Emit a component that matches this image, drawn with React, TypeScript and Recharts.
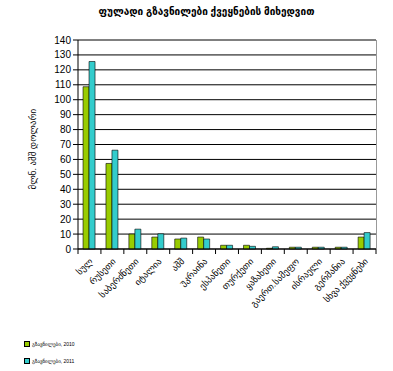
import React from "react";
import { Bar, BarChart, CartesianGrid, XAxis, YAxis } from "recharts";

const countries = [
  "სულ",
  "რუსეთი",
  "საბერძნეთი",
  "იტალია",
  "აშშ",
  "უკრაინა",
  "ესპანეთი",
  "თურქეთი",
  "ყაზახეთი",
  "გაერთ.სამეფო",
  "ისრაელი",
  "გერმანია",
  "სხვა ქვეყნები",
];
const values2010 = [108.7, 57.3, 10, 8, 6.7, 8, 2.5, 2.5, 0.5, 1.2, 1.2, 1.2, 8];
const values2011 = [125.6, 66.2, 13.3, 10.2, 7.3, 6.7, 2.5, 1.8, 1.5, 1.2, 1.2, 1.2, 11];
const yTicks = [0, 10, 20, 30, 40, 50, 60, 70, 80, 90, 100, 110, 120, 130, 140];
const seriesNames = ["გზავნილები, 2010", "გზავნილები, 2011"];
const seriesColors = ["#99cc00", "#33cccc"];

const data = countries.map((name, i) => ({
  name,
  y2010: values2010[i],
  y2011: values2011[i],
}));

const FONT = "'Liberation Sans', 'DejaVu Sans', Arial, sans-serif";
const PLOT_LEFT = 78;
const PLOT_RIGHT = 17;
const BAND = (393 - PLOT_LEFT - PLOT_RIGHT) / countries.length;

const CategoryTick = (props: any) => {
  const { x, y, payload, index } = props;
  return (
    <g>
      <line x1={x - BAND / 2} y1={y - 8} x2={x - BAND / 2} y2={y - 3} stroke="#000" />
      {index === countries.length - 1 && (
        <line x1={x + BAND / 2} y1={y - 8} x2={x + BAND / 2} y2={y - 3} stroke="#000" />
      )}
      <text
        x={x + 4}
        y={y + 5}
        textAnchor="end"
        fontSize={9}
        fontFamily={FONT}
        fill="#000"
        transform={`rotate(-45 ${x + 4} ${y + 5})`}
      >
        {payload.value}
      </text>
    </g>
  );
};

export default function App() {
  return (
    <div style={{ position: "absolute", left: 0, top: 0, width: 393, height: 371, background: "#fff" }}>
      <div
        style={{
          position: "absolute",
          top: 6,
          left: 0,
          width: 393,
          textAlign: "center",
          fontFamily: FONT,
          fontWeight: "bold",
          fontSize: 10,
          paddingLeft: 10,
        }}
      >
        ფულადი გზავნილები ქვეყნების მიხედვით
      </div>
      <BarChart
        width={393}
        height={371}
        data={data}
        margin={{ top: 40, right: PLOT_RIGHT, left: 20, bottom: 122 - 30 }}
        barCategoryGap="22%"
        barGap={0}
      >
        <CartesianGrid vertical={false} stroke="#000" strokeWidth={1} />
        <XAxis
          dataKey="name"
          interval={0}
          tickLine={false}
          axisLine={{ stroke: "#000" }}
          tick={<CategoryTick />}
          height={30}
        />
        <YAxis
          width={58}
          domain={[0, 140]}
          ticks={yTicks}
          interval={0}
          tickSize={5}
          tickLine={{ stroke: "#000" }}
          axisLine={{ stroke: "#000" }}
          tick={{ fontSize: 10, fontFamily: FONT, fill: "#000" }}
          label={{
            value: "მლნ. აშშ დოლარი",
            angle: -90,
            position: "insideLeft",
            dx: 8,
            dy: 45,
            style: { fontSize: 9, fontFamily: FONT, fill: "#000" },
          }}
        />
        <Bar dataKey="y2010" name={seriesNames[0]} fill={seriesColors[0]} stroke="#000" strokeWidth={0.6} isAnimationActive={false} />
        <Bar dataKey="y2011" name={seriesNames[1]} fill={seriesColors[1]} stroke="#000" strokeWidth={0.6} isAnimationActive={false} />
      </BarChart>
      <div style={{ position: "absolute", left: 376, top: 40, width: 1, height: 209, background: "#999" }} />
      <div style={{ position: "absolute", left: 24, top: 340, fontFamily: FONT, fontSize: 5 }}>
        {seriesNames.map((n, i) => (
          <div key={n} style={{ display: "flex", alignItems: "center", height: 8, marginBottom: 9 }}>
            <span
              style={{
                display: "inline-block",
                width: 4,
                height: 4,
                background: seriesColors[i],
                border: "1px solid #000",
                marginRight: 2,
              }}
            />
            {n}
          </div>
        ))}
      </div>
    </div>
  );
}
